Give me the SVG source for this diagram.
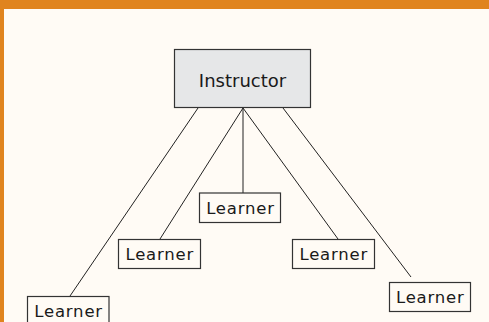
<svg xmlns="http://www.w3.org/2000/svg" width="489" height="322" viewBox="0 0 489 322">
  <style>
    .frame { fill: #E0841E; }
    .box { fill: #FFFBF5; stroke: #333333; stroke-width: 1.2; }
    .boss { fill: #E6E7E8; stroke: #333333; stroke-width: 1.2; }
    .link { stroke: #222222; stroke-width: 1; fill: none; }
    .lbl { font-family: "DejaVu Sans", "Liberation Sans", sans-serif; fill: #1a1a1a; text-anchor: middle; }
    .lg { font-size: 18px; }
    .sm { font-size: 16.5px; letter-spacing: 0.8px; }
  </style>
  <rect width="489" height="322" fill="#FFFBF5"/>
  <rect class="frame" x="0" y="0" width="489" height="9"/>
  <rect class="frame" x="0" y="0" width="4" height="322"/>

  <g id="connectors">
    <line class="link" x1="198" y1="108" x2="70" y2="296"/>
    <line class="link" x1="243" y1="108" x2="160" y2="239"/>
    <line class="link" x1="243" y1="108" x2="243" y2="193"/>
    <line class="link" x1="243" y1="108" x2="338" y2="239"/>
    <line class="link" x1="283" y1="108" x2="411" y2="277"/>
  </g>

  <g id="instructor">
    <rect class="boss" x="174.5" y="49.5" width="136" height="58"/>
    <text class="lbl lg" x="242.5" y="86.5">Instructor</text>
  </g>

  <g id="learner-center">
    <rect class="box" x="199.5" y="193" width="81" height="29.5"/>
    <text class="lbl sm" x="240.5" y="213.5">Learner</text>
  </g>

  <g id="learner-left-mid">
    <rect class="box" x="118.5" y="239.5" width="82" height="29"/>
    <text class="lbl sm" x="159.8" y="259.5">Learner</text>
  </g>

  <g id="learner-right-mid">
    <rect class="box" x="292.5" y="239.5" width="82" height="29"/>
    <text class="lbl sm" x="333.8" y="259.5">Learner</text>
  </g>

  <g id="learner-far-right">
    <rect class="box" x="389.5" y="282.5" width="81" height="29"/>
    <text class="lbl sm" x="430.3" y="302.5">Learner</text>
  </g>

  <g id="learner-far-left">
    <rect class="box" x="27.5" y="296.5" width="81.5" height="29"/>
    <text class="lbl sm" x="68.6" y="317">Learner</text>
  </g>
</svg>
